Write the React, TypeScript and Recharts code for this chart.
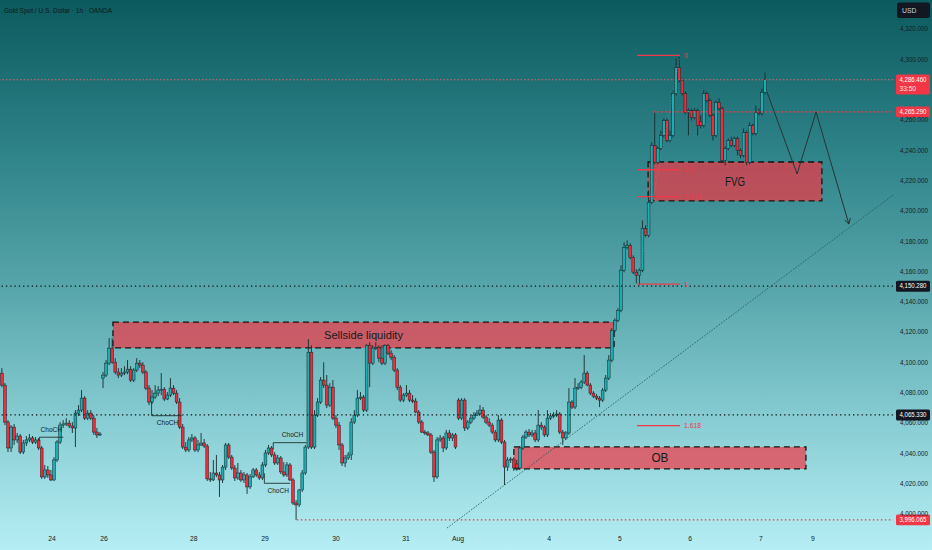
import React from 'react';
import { ComposedChart, Bar, XAxis, YAxis, ReferenceLine, ReferenceArea, ReferenceDot } from 'recharts';

type OHLC = [number, number, number, number]; // open, high, low, close

const candles: OHLC[] = [
  [4092.9,4096.2,4083.6,4085.0],[4085.0,4086.3,4058.6,4060.6],[4060.6,4061.9,4040.8,4043.5],[4043.5,4058.6,4040.8,4057.3],
  [4057.3,4059.3,4045.5,4048.8],[4048.8,4053.4,4046.8,4051.4],[4051.4,4052.7,4039.5,4040.8],[4040.8,4048.8,4039.5,4046.8],
  [4046.8,4051.4,4044.8,4048.8],[4048.8,4052.7,4047.4,4050.1],[4050.1,4051.4,4046.1,4047.4],[4047.4,4050.7,4046.1,4048.8],
  [4048.8,4050.1,4042.2,4043.5],[4043.5,4044.8,4023.1,4024.4],[4024.4,4032.3,4023.1,4029.0],[4029.0,4031.6,4023.7,4025.7],
  [4025.7,4029.0,4021.7,4022.4],[4022.4,4037.5,4021.7,4035.6],[4035.6,4048.8,4034.2,4047.4],[4047.4,4060.6,4046.1,4058.6],
  [4058.6,4061.9,4056.7,4059.3],[4059.3,4063.2,4058.0,4059.9],[4059.9,4061.9,4056.7,4058.0],[4058.0,4060.6,4053.4,4056.7],
  [4056.7,4068.5,4044.1,4066.5],[4066.5,4071.8,4064.6,4068.5],[4068.5,4081.7,4067.2,4076.4],[4076.4,4077.7,4061.9,4063.2],
  [4063.2,4068.5,4061.9,4066.5],[4066.5,4068.5,4061.9,4063.2],[4063.2,4065.2,4052.1,4054.0],[4054.0,4056.7,4050.1,4052.1],
  [4052.1,4054.0,4051.4,4052.7],
  [4089.6,4093.6,4083.0,4091.6],[4091.6,4101.5,4090.3,4099.5],[4099.5,4116.0,4098.2,4109.4],[4109.4,4116.0,4099.0,4100.1],
  [4100.1,4102.8,4092.2,4093.6],[4093.6,4096.2,4089.6,4091.6],[4091.6,4096.2,4090.3,4092.9],[4092.9,4097.5,4091.6,4093.6],
  [4093.6,4101.5,4092.2,4095.5],[4095.5,4097.5,4087.0,4088.3],[4088.3,4096.2,4087.0,4094.9],[4094.9,4102.8,4093.6,4099.5],
  [4099.5,4101.5,4096.2,4098.2],[4098.2,4100.1,4092.2,4093.6],[4093.6,4094.9,4081.7,4083.0],[4083.0,4085.0,4071.8,4073.8],
  [4073.8,4081.7,4072.5,4077.1],[4077.1,4085.0,4075.8,4079.7],[4079.7,4084.3,4077.7,4081.7],
  [4081.7,4092.9,4078.4,4082.3],[4082.3,4083.6,4074.4,4075.8],[4075.8,4080.4,4075.1,4078.4],[4078.4,4089.6,4077.1,4083.0],
  [4083.0,4085.0,4078.4,4079.7],[4079.7,4081.7,4072.5,4073.8],[4073.8,4076.4,4056.0,4057.3],[4057.3,4059.3,4042.8,4044.1],
  [4044.1,4047.4,4040.8,4042.2],[4042.2,4050.7,4040.8,4048.8],[4048.8,4052.7,4047.4,4050.1],[4050.1,4051.4,4040.8,4042.2],
  [4042.2,4048.8,4040.8,4045.5],[4045.5,4053.4,4044.8,4046.8],[4046.8,4049.4,4043.5,4044.8],[4044.8,4046.1,4021.7,4023.1],
  [4023.1,4027.7,4021.1,4022.4],[4022.4,4035.6,4021.7,4027.0],[4027.0,4038.9,4024.4,4025.7],[4025.7,4027.7,4011.2,4022.4],
  [4022.4,4032.3,4020.4,4030.9],[4030.9,4046.8,4029.0,4045.5],[4045.5,4046.8,4036.2,4037.5],[4037.5,4038.9,4029.0,4030.3],
  [4030.3,4032.3,4021.7,4023.7],[4023.7,4033.6,4022.4,4027.0],[4027.0,4029.0,4021.1,4022.4],[4022.4,4027.7,4020.4,4025.7],
  [4025.7,4027.0,4013.2,4017.8],[4017.8,4026.3,4016.5,4024.4],[4024.4,4030.3,4023.7,4029.0],[4029.0,4030.3,4024.4,4025.7],
  [4025.7,4027.7,4022.4,4023.7],[4023.7,4034.2,4022.4,4032.3],[4032.3,4042.2,4030.9,4040.2],[4040.2,4045.5,4038.9,4043.5],
  [4043.5,4044.8,4037.5,4038.9],[4038.9,4040.8,4032.3,4033.6],[4033.6,4038.9,4032.3,4036.9],[4036.9,4038.2,4026.3,4027.7],
  [4027.7,4034.2,4024.4,4025.7],[4025.7,4034.2,4024.4,4032.3],[4032.3,4033.6,4021.7,4022.4],[4022.4,4023.7,4005.9,4007.2],
  [4007.2,4009.2,3996.1,4005.9],
  [4005.9,4016.5,4004.6,4015.8],[4015.8,4029.0,4014.5,4027.0],[4027.0,4045.5,4025.7,4044.1],[4044.1,4115.3,4042.8,4106.7],
  [4106.7,4111.3,4042.8,4044.1],
  [4044.1,4068.5,4042.8,4065.2],[4065.2,4076.4,4063.9,4073.8],[4073.8,4090.3,4072.5,4088.3],[4088.3,4100.1,4083.0,4085.0],
  [4085.0,4091.6,4069.8,4071.8],[4071.8,4086.3,4070.5,4083.6],[4083.6,4088.3,4061.9,4063.2],[4063.2,4065.2,4056.7,4058.6],
  [4058.6,4060.6,4042.2,4045.5],[4045.5,4046.8,4031.6,4033.6],[4033.6,4038.9,4030.9,4036.9],[4036.9,4040.8,4035.6,4038.9],
  [4038.9,4063.2,4035.6,4060.6],[4060.6,4068.5,4059.3,4065.2],[4065.2,4081.7,4063.9,4076.4],[4076.4,4080.4,4075.1,4077.1],
  [4077.1,4078.4,4067.2,4068.5],[4068.5,4112.0,4067.2,4111.3],[4111.3,4113.3,4083.6,4099.5],[4099.5,4111.3,4098.2,4109.4],
  [4109.4,4113.3,4108.1,4110.0],[4110.0,4111.3,4100.1,4102.8],[4102.8,4111.3,4098.2,4099.5],[4099.5,4112.0,4098.2,4111.3],
  [4111.3,4112.0,4104.8,4106.1],[4106.1,4108.1,4101.5,4103.4],[4103.4,4104.8,4093.6,4094.9],[4094.9,4096.2,4081.7,4083.6],
  [4083.6,4085.0,4073.8,4075.1],[4075.1,4079.7,4073.8,4078.4],[4078.4,4085.0,4077.1,4079.7],[4079.7,4081.7,4073.8,4075.1],
  [4075.1,4078.4,4073.1,4074.4],[4074.4,4076.4,4066.5,4067.2],[4067.2,4068.5,4059.3,4060.6],[4060.6,4061.9,4053.4,4054.0],
  [4054.0,4055.4,4052.1,4053.4],[4053.4,4054.7,4051.4,4052.1],[4052.1,4053.4,4039.5,4040.8],[4040.8,4042.2,4021.1,4024.4],
  [4024.4,4050.7,4023.1,4048.8],[4048.8,4052.1,4047.4,4050.1],[4050.1,4051.4,4040.8,4043.5],[4043.5,4055.4,4042.2,4053.4],
  [4053.4,4055.4,4048.1,4050.1],[4050.1,4053.4,4048.1,4052.1],[4052.1,4053.4,4042.8,4044.1],
  [4075.1,4076.4,4061.9,4063.2],[4063.2,4076.4,4061.9,4075.1],[4075.1,4076.4,4054.7,4056.7],[4056.7,4061.9,4055.4,4060.6],
  [4060.6,4065.2,4059.3,4063.2],[4063.2,4067.2,4061.9,4065.2],[4065.2,4068.5,4064.6,4066.5],[4066.5,4071.8,4065.2,4068.5],
  [4068.5,4070.5,4062.6,4063.9],[4063.9,4065.2,4059.3,4060.6],[4060.6,4063.2,4057.3,4058.6],[4058.6,4059.9,4052.7,4054.0],
  [4054.0,4055.4,4047.4,4048.8],[4048.8,4065.2,4047.4,4061.9],[4061.9,4063.2,4046.1,4047.4],[4047.4,4048.8,4019.1,4030.9],
  [4030.9,4037.5,4028.4,4035.6],[4035.6,4037.5,4033.6,4036.2],[4036.2,4037.5,4028.4,4030.3],[4033.0,4035.6,4028.4,4030.3],
  [4030.3,4044.8,4029.0,4043.5],[4043.5,4052.1,4042.2,4050.7],[4050.7,4055.4,4049.4,4054.0],[4054.0,4056.0,4050.7,4052.1],
  [4052.1,4055.4,4050.7,4053.4],[4053.4,4055.4,4047.4,4048.8],[4048.8,4068.5,4047.4,4058.6],[4058.6,4060.6,4055.4,4057.3],
  [4057.3,4058.6,4050.7,4052.1],[4052.1,4068.5,4050.7,4063.2],[4063.2,4066.5,4061.9,4064.6],[4064.6,4067.2,4063.2,4065.2],
  [4065.2,4068.5,4063.9,4065.9],[4065.9,4067.2,4052.7,4054.0],[4054.0,4055.4,4045.5,4050.1],[4050.1,4054.7,4048.8,4053.4],
  [4053.4,4083.0,4052.1,4073.8],[4073.8,4075.1,4069.2,4070.5],[4070.5,4089.6,4069.2,4083.0],[4083.0,4086.3,4081.7,4083.6],
  [4083.6,4088.3,4082.3,4087.0],[4087.0,4104.8,4085.7,4092.9],[4092.9,4094.2,4084.3,4085.0],[4085.0,4086.3,4078.4,4079.7],
  [4079.7,4081.0,4076.4,4077.7],[4077.7,4079.0,4075.1,4076.4],[4076.4,4077.7,4070.5,4075.1],[4075.1,4083.0,4073.8,4081.7],
  [4081.7,4091.6,4080.4,4089.6],[4089.6,4104.8,4088.3,4101.5],[4101.5,4122.6,4100.1,4121.2],[4121.2,4129.1,4119.9,4127.8],
  [4127.8,4135.7,4126.5,4134.4],[4134.4,4164.1,4133.1,4160.8],[4160.8,4179.2,4159.5,4175.9],[4175.9,4180.5,4174.6,4177.2],
  [4177.2,4178.6,4168.0,4169.3],[4169.3,4170.6,4158.2,4159.5],[4159.5,4161.5,4152.2,4157.5],[4157.5,4162.1,4150.9,4160.8],
  [4160.8,4193.7,4159.5,4188.5],[4188.5,4190.5,4182.5,4183.8],[4183.8,4213.5,4182.5,4205.6],[4205.6,4245.1,4204.3,4243.2],
  [4243.2,4264.9,4230.6,4231.9],[4231.9,4242.5,4230.6,4241.2],[4241.2,4253.0,4239.9,4249.7],[4249.7,4261.0,4248.4,4259.6],
  [4259.6,4261.0,4245.1,4246.4],[4246.4,4253.0,4245.1,4249.7],[4249.7,4279.4,4248.4,4277.4],[4277.4,4300.5,4276.1,4294.5],
  [4294.5,4302.5,4284.7,4286.0],[4286.0,4287.3,4276.1,4277.4],[4277.4,4278.7,4263.6,4264.9],[4264.9,4267.5,4249.7,4266.2],
  [4266.2,4267.5,4259.6,4261.6],[4261.6,4267.5,4260.3,4266.2],[4266.2,4267.5,4249.7,4256.3],[4259.0,4263.0,4254.3,4256.3],
  [4256.3,4279.4,4255.0,4277.4],[4277.4,4278.7,4271.5,4272.8],[4272.8,4274.1,4261.6,4262.9],[4262.9,4264.2,4246.4,4249.7],
  [4249.7,4272.8,4248.4,4271.5],[4271.5,4274.1,4266.2,4267.5],[4267.5,4268.8,4231.9,4233.3],[4233.3,4242.5,4230.0,4241.2],
  [4241.2,4247.8,4239.9,4246.4],[4246.4,4249.0,4241.9,4243.2],[4243.2,4249.0,4241.9,4247.8],[4247.8,4249.0,4236.6,4239.9],
  [4239.9,4241.2,4234.6,4236.6],[4236.6,4254.3,4235.3,4251.7],[4251.7,4253.0,4230.0,4231.9],[4231.9,4258.3,4230.6,4256.3],
  [4256.3,4257.6,4249.7,4251.1],[4251.1,4269.5,4249.7,4264.9],[4264.9,4267.5,4263.0,4264.2],[4264.2,4280.7,4262.9,4278.1],
  [4278.1,4291.3,4276.8,4286.5],
];

const dayPos = [16.3, 33.3, 62.6, 85.8, 109.0, 131.8, 148.8, 178.5, 201.6, 224.5, 247.6, 264.6];
const dayLabels = ['24', '26', '28', '29', '30', '31', 'Aug', '4', '5', '6', '7', '9'];
const priceTicks = [4000, 4020, 4040, 4060, 4080, 4100, 4120, 4140, 4160, 4180, 4200, 4220, 4240, 4260, 4300, 4320];

const X_DOMAIN: [number, number] = [-0.65, 290.7];
const Y_DOMAIN: [number, number] = [3990.7, 4339.1];

const zones = [
  { name: 'Sellside liquidity', x1: 36.2, x2: 199.7, y1: 4109.5, y2: 4126.6 },
  { name: 'FVG', x1: 210.8, x2: 267.5, y1: 4206.5, y2: 4232.2 },
  { name: 'OB', x1: 167.0, x2: 262.3, y1: 4029.7, y2: 4044.2 },
];

const fibLevels = [
  { r: '0', p: 4302.6 },
  { r: '0.5', p: 4227.1 },
  { r: '0.618', p: 4209.3 },
  { r: '1', p: 4151.6 },
  { r: '1.618', p: 4058.3 },
];
const fibStart = 207.2;
const fibEnd = 221.2;

const priceTags = [
  { p: 4286.46, t: '4,286.460', sub: '33:50', bg: '#f23645' },
  { p: 4265.29, t: '4,265.290', sub: '', bg: '#f23645' },
  { p: 4150.28, t: '4,150.280', sub: '', bg: '#131722' },
  { p: 4065.33, t: '4,065.330', sub: '', bg: '#131722' },
  { p: 3996.065, t: '3,996.065', sub: '', bg: '#f23645' },
];

const chochMarks = [
  { tx: 16.1, ty: 4055.7, x1: 12.2, x2: 20.0, y: 4050.6, vy: 4048.1 },
  { tx: 54.0, ty: 4060.2, x1: 48.8, x2: 58.6, y: 4064.8, vy: 4074.1 },
  { tx: 94.8, ty: 4052.6, x1: 88.5, x2: 99.4, y: 4047.0, vy: 4042.6 },
  { tx: 90.1, ty: 4015.3, x1: 85.6, x2: 94.0, y: 4020.2, vy: 4026.8 },
];

const projection = [
  { x: 249.6, y: 4278.4 },
  { x: 259.4, y: 4224.3 },
  { x: 265.6, y: 4265.2 },
  { x: 276.3, y: 4191.3 },
];

const trendLine = [
  { x: 145.2, y: 3990.7 },
  { x: 290.7, y: 4210.4 },
];
const fibDiagonal = [
  { x: 207.2, y: 4151.6 },
  { x: 221.2, y: 4302.6 },
];

const data = candles.map(([o, h, l, c], i) => ({ i, o, h, l, c, range: [l, h] }));

const UP = '#1fabb0';
const DOWN = '#f22a3a';
const WICK = '#172a2c';
const FONT = '"Liberation Sans", Arial, sans-serif';

const Candle = (props: any) => {
  const { x, y, width, height, payload } = props;
  if (!payload || x == null) return null;
  const { o, h, l, c } = payload;
  const top = Math.min(y, y + height);
  const bot = Math.max(y, y + height);
  const k = h > l ? (bot - top) / (h - l) : 0;
  const py = (v: number) => top + (h - v) * k;
  const cx = x + width / 2;
  const up = c >= o;
  const bt = py(Math.max(o, c));
  const bb = py(Math.min(o, c));
  const bw = 2.8;
  return (
    <g>
      <line x1={cx} x2={cx} y1={top} y2={bot} stroke={WICK} strokeWidth={0.9} />
      <rect x={cx - bw / 2} y={bt} width={bw} height={Math.max(1, bb - bt)} fill={up ? UP : DOWN} stroke="#132628" strokeWidth={0.5} />
    </g>
  );
};

const YTick = (props: any) => {
  const { x, y, payload } = props;
  const s = Number(payload.value).toLocaleString('en-US', { minimumFractionDigits: 3, maximumFractionDigits: 3 });
  return (
    <text x={x} y={y + 2.4} fontSize={6.8} fill="#17201f" textAnchor="start" textLength={28} lengthAdjust="spacingAndGlyphs" fontFamily={FONT}>
      {s}
    </text>
  );
};

const XTick = (props: any) => {
  const { x, y, payload } = props;
  const idx = dayPos.indexOf(payload.value);
  return (
    <text x={x} y={y + 5} fontSize={6.8} fill="#17201f" textAnchor="middle" fontFamily={FONT}>
      {idx >= 0 ? dayLabels[idx] : ''}
    </text>
  );
};

export default function App() {
  return (
    <div
      style={{
        position: 'relative',
        width: 932,
        height: 550,
        background: 'linear-gradient(180deg, #0b5a5e 0%, #2f8489 28%, #56a5aa 52%, #86ccd2 76%, #b5eef4 100%)',
        overflow: 'hidden',
      }}
    >
      <style>{'body{margin:0;}'}</style>
      <ComposedChart
        width={932}
        height={550}
        data={data}
        margin={{ top: 0, right: 0, bottom: 0, left: 0 }}
        style={{ fontFamily: FONT }}
      >
        <XAxis
          dataKey="i"
          type="number"
          domain={X_DOMAIN}
          allowDataOverflow
          ticks={dayPos}
          interval={0}
          tick={<XTick />}
          tickLine={false}
          axisLine={false}
          tickSize={0}
          tickMargin={8}
          height={22}
        />
        <YAxis
          orientation="right"
          type="number"
          domain={Y_DOMAIN}
          allowDataOverflow
          ticks={priceTicks}
          interval={0}
          tick={<YTick />}
          tickLine={false}
          axisLine={false}
          tickSize={0}
          tickMargin={7}
          width={39}
        />

        {zones.map((z) => (
          <ReferenceArea
            key={z.name}
            x1={z.x1}
            x2={z.x2}
            y1={z.y1}
            y2={z.y2}
            fill="#f23645"
            fillOpacity={0.7}
            stroke="#121414"
            strokeWidth={1.3}
            strokeDasharray="6 4"
            ifOverflow="visible"
          />
        ))}

        <ReferenceLine y={4286.46} stroke="#e3606c" strokeWidth={1} strokeDasharray="1.5 2" ifOverflow="visible" />
        <ReferenceLine segment={[{ x: 212.4, y: 4265.29 }, { x: 290.7, y: 4265.29 }]} stroke="#f23645" strokeWidth={1.1} strokeDasharray="2 2" ifOverflow="visible" />
        <ReferenceLine y={4150.28} stroke="#0e1212" strokeWidth={1.2} strokeDasharray="1.3 3" ifOverflow="visible" />
        <ReferenceLine y={4065.33} stroke="#0e1212" strokeWidth={1.2} strokeDasharray="1.3 3" ifOverflow="visible" />
        <ReferenceLine segment={[{ x: 96.2, y: 3996.065 }, { x: 290.7, y: 3996.065 }]} stroke="#f23645" strokeWidth={1.1} strokeDasharray="1.5 2.5" ifOverflow="visible" />

        <ReferenceLine segment={trendLine} stroke="#245c62" strokeWidth={0.9} strokeDasharray="1.5 1.5" ifOverflow="visible" />
        <ReferenceLine segment={fibDiagonal} stroke="#8a8f90" strokeOpacity={0.7} strokeWidth={0.8} strokeDasharray="1 2" ifOverflow="visible" />

        {fibLevels.map((f) => (
          <ReferenceLine
            key={'fl' + f.r}
            segment={[{ x: fibStart, y: f.p }, { x: fibEnd, y: f.p }]}
            stroke="#f03a48"
            strokeOpacity={1}
            strokeWidth={1.3}
            ifOverflow="visible"
          />
        ))}

        <Bar dataKey="range" barSize={2.8} shape={<Candle />} isAnimationActive={false} />

        {zones.map((z) => {
          const isBig = z.name === 'Sellside liquidity';
          const size = isBig ? 11.5 : 12.5;
          const len = isBig ? 79 : z.name === 'FVG' ? 20 : 17;
          return (
            <ReferenceDot
              key={'zl' + z.name}
              x={(z.x1 + z.x2) / 2}
              y={(z.y1 + z.y2) / 2}
              ifOverflow="visible"
              shape={(p: any) => (
                <text
                  x={p.cx}
                  y={p.cy + size * 0.36}
                  fontSize={size}
                  fill="#141a1a"
                  textAnchor="middle"
                  fontFamily={FONT}
                  textLength={len}
                  lengthAdjust="spacingAndGlyphs"
                >
                  {z.name}
                </text>
              )}
            />
          );
        })}

        {fibLevels.map((f) => (
          <ReferenceDot
            key={'ft' + f.r}
            x={fibEnd}
            y={f.p}
            ifOverflow="visible"
            shape={(p: any) => (
              <text x={p.cx + 4} y={p.cy + 2.4} fontSize={6.8} fill="#e83a48" fontFamily={FONT}>
                {f.r}
              </text>
            )}
          />
        ))}

        {chochMarks.map((m, k) => (
          <ReferenceLine key={'ch' + k} segment={[{ x: m.x1, y: m.y }, { x: m.x2, y: m.y }]} stroke="#223232" strokeWidth={0.9} ifOverflow="visible" />
        ))}
        {chochMarks.map((m, k) => (
          <ReferenceLine key={'cv' + k} segment={[{ x: m.x1, y: m.y }, { x: m.x1, y: m.vy }]} stroke="#223232" strokeWidth={0.9} ifOverflow="visible" />
        ))}
        {chochMarks.map((m, k) => (
          <ReferenceDot
            key={'ct' + k}
            x={m.tx}
            y={m.ty}
            ifOverflow="visible"
            shape={(p: any) => (
              <text x={p.cx} y={p.cy + 2.6} fontSize={7.4} fill="#141a1a" textAnchor="middle" fontFamily={FONT} textLength={21.5} lengthAdjust="spacingAndGlyphs">
                ChoCH
              </text>
            )}
          />
        ))}

        {projection.slice(1).map((pt, k) => (
          <ReferenceLine key={'pj' + k} segment={[projection[k], pt]} stroke="#263334" strokeWidth={1} ifOverflow="visible" />
        ))}
        <ReferenceDot
          x={projection[3].x}
          y={projection[3].y}
          ifOverflow="visible"
          shape={(p: any) => (
            <path d={`M${p.cx - 4.3},${p.cy - 4.1} L${p.cx},${p.cy} L${p.cx + 1.4},${p.cy - 5.8}`} stroke="#263334" strokeWidth={1} fill="none" />
          )}
        />

        {priceTags.map((t) => (
          <ReferenceDot
            key={'pt' + t.t}
            x={X_DOMAIN[1]}
            y={t.p}
            ifOverflow="visible"
            shape={(p: any) => (
              <g>
                <rect x={p.cx + 3} y={p.cy - 5.3} width={34} height={t.sub ? 20 : 10.8} rx={1.5} fill={t.bg} />
                <text x={p.cx + 6.5} y={p.cy + 2.3} fontSize={6.6} fill="#ffffff" fontFamily={FONT} textLength={27} lengthAdjust="spacingAndGlyphs">
                  {t.t}
                </text>
                {t.sub ? (
                  <text x={p.cx + 6.5} y={p.cy + 11.6} fontSize={6.6} fill="#ffe3e6" fontFamily={FONT}>
                    {t.sub}
                  </text>
                ) : null}
              </g>
            )}
          />
        ))}
      </ComposedChart>

      <svg width={932} height={20} style={{ position: 'absolute', left: 0, top: 0, pointerEvents: 'none' }}>
        <text x={4} y={12.6} fontSize={7.2} fill="#0d1818" fontFamily={FONT} textLength={108} lengthAdjust="spacingAndGlyphs">
          Gold Spot / U.S. Dollar · 1h · OANDA
        </text>
        <rect x={897} y={2.5} width={33} height={15.5} rx={2.5} fill="#131722" />
        <text x={902} y={12.6} fontSize={6.8} fill="#d1d4dc" fontFamily={FONT}>
          USD
        </text>
      </svg>
    </div>
  );
}
